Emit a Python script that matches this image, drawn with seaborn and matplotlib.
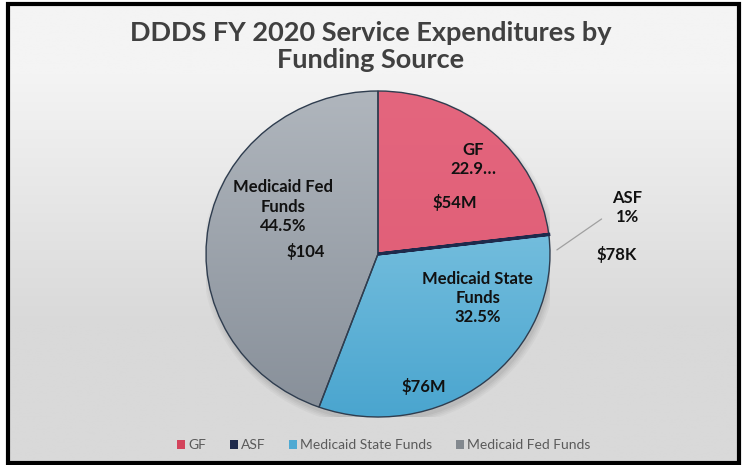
import numpy as np
import matplotlib
matplotlib.use("Agg")
import matplotlib.pyplot as plt
import seaborn as sns
from matplotlib.colors import LinearSegmentedColormap
from matplotlib.patches import Rectangle, Ellipse

# Data
sources = ["GF", "ASF", "Medicaid State Funds", "Medicaid Fed Funds"]
spend_musd = [54, 0.078, 76, 104]
pct_labels = ["22.9\u2026", "1%", "32.5%", "44.5%"]
dollar_labels = ["$54M", "$78K", "$76M", "$104"]

sns.set_style("white")
plt.rcParams["font.family"] = ["Lato", "DejaVu Sans"]

# slice colours (top, bottom of gradient)
grad = [("#E4667E", "#DE5A73"), ("#1E2A4C", "#1E2A4C"),
        ("#93D0E8", "#4AA5CF"), ("#B0B6BD", "#878F99")]
legend_cols = ["#D3445C", "#1E2A4C", "#4FAAD3", "#83898F"]

fig = plt.figure(figsize=(7.42, 4.65), dpi=100)
fig.patch.set_facecolor("white")

# background panel with soft gradient
bg = fig.add_axes([0.011, 0.004, 0.985, 0.987])
bg.set_axis_off()
ys = np.linspace(0, 1, 200)
shade = np.clip((ys - 0.15) / 0.55, 0, 1)
g = np.vstack([shade, shade]).T
bg_cmap = LinearSegmentedColormap.from_list("bg", ["#F4F4F4", "#D9D9D9"])
bg.imshow(g, cmap=bg_cmap, aspect="auto", extent=[0, 1, 1, 0], vmin=0, vmax=1)
bg.set_xlim(0, 1)
bg.set_ylim(1, 0)
fig.patches.append(Rectangle((0.011, 0.004), 0.985, 0.987, transform=fig.transFigure,
                             fill=False, edgecolor="black", linewidth=3, zorder=10))

# pie axes
ax = fig.add_axes([206 / 742, 48 / 465, 344 / 742, 326 / 465])
ax.set_axis_off()

# soft shadow under the pie
for i, a in enumerate([0.05, 0.05, 0.06, 0.08]):
    s = 2.06 - i * 0.02
    ax.add_patch(Ellipse((0.01, -0.03), s, s, facecolor="#555555", alpha=a,
                         edgecolor="none", zorder=0))

wedges, _ = ax.pie(spend_musd, startangle=90, counterclock=False,
                   colors=[c[1] for c in grad],
                   wedgeprops=dict(edgecolor="none"))
for w in wedges:
    w.set_zorder(1)

yy = np.linspace(1, 0, 256).reshape(-1, 1)
for w, (c_top, c_bot) in zip(wedges, grad):
    cm = LinearSegmentedColormap.from_list("w", [c_bot, c_top])
    im = ax.imshow(yy, cmap=cm, extent=[-1, 1, -1, 1], aspect="auto",
                   origin="upper", vmin=0, vmax=1, zorder=2)
    im.set_clip_path(w)

edges, _ = ax.pie(spend_musd, startangle=90, counterclock=False,
                  wedgeprops=dict(facecolor="none", edgecolor="#2F3D4F",
                                  linewidth=1.0, zorder=3))
edges[1].set_edgecolor("#1E2A4C")
edges[1].set_linewidth(2.2)
edges[1].set_zorder(4)
ax.set_aspect("auto")
ax.set_xlim(-1, 1)
ax.set_ylim(-1, 1)

lab = dict(ha="center", va="center", fontsize=12, fontweight="bold",
           color="#111111", zorder=5, linespacing=1.25)
ax.text(0.552, 0.58, "GF\n" + pct_labels[0], **lab)
ax.text(0.448, 0.319, dollar_labels[0], **lab)
ax.text(1.45, 0.285, "ASF\n" + pct_labels[1], clip_on=False, **lab)
ax.text(1.39, -0.006, dollar_labels[1], clip_on=False, **lab)
ax.plot([1.04, 1.30], [0.025, 0.215], color="#A0A0A0", lw=0.9, clip_on=False, zorder=5)
ax.text(0.581, -0.27, "Medicaid State\nFunds\n" + pct_labels[2], **lab)
ax.text(0.267, -0.81, dollar_labels[2], **lab)
ax.text(-0.552, 0.29, "Medicaid Fed\nFunds\n" + pct_labels[3], **lab)
ax.text(-0.419, 0.018, dollar_labels[3], **lab)

fig.text(0.5, 0.9, "DDDS FY 2020 Service Expenditures by\nFunding Source",
         ha="center", va="center", fontsize=19.5, fontweight="bold",
         color="#404040", linespacing=1.15)

handles = [Rectangle((0, 0), 1, 1, facecolor=c, edgecolor="none") for c in legend_cols]
fig.legend(handles, sources, loc="center", bbox_to_anchor=(0.517, 0.043), ncol=4,
           frameon=False, fontsize=10, handlelength=0.6, handleheight=0.6,
           handletextpad=0.2, columnspacing=1.7, labelcolor="#5A5A5A")

fig.savefig("out.png", dpi=100)
